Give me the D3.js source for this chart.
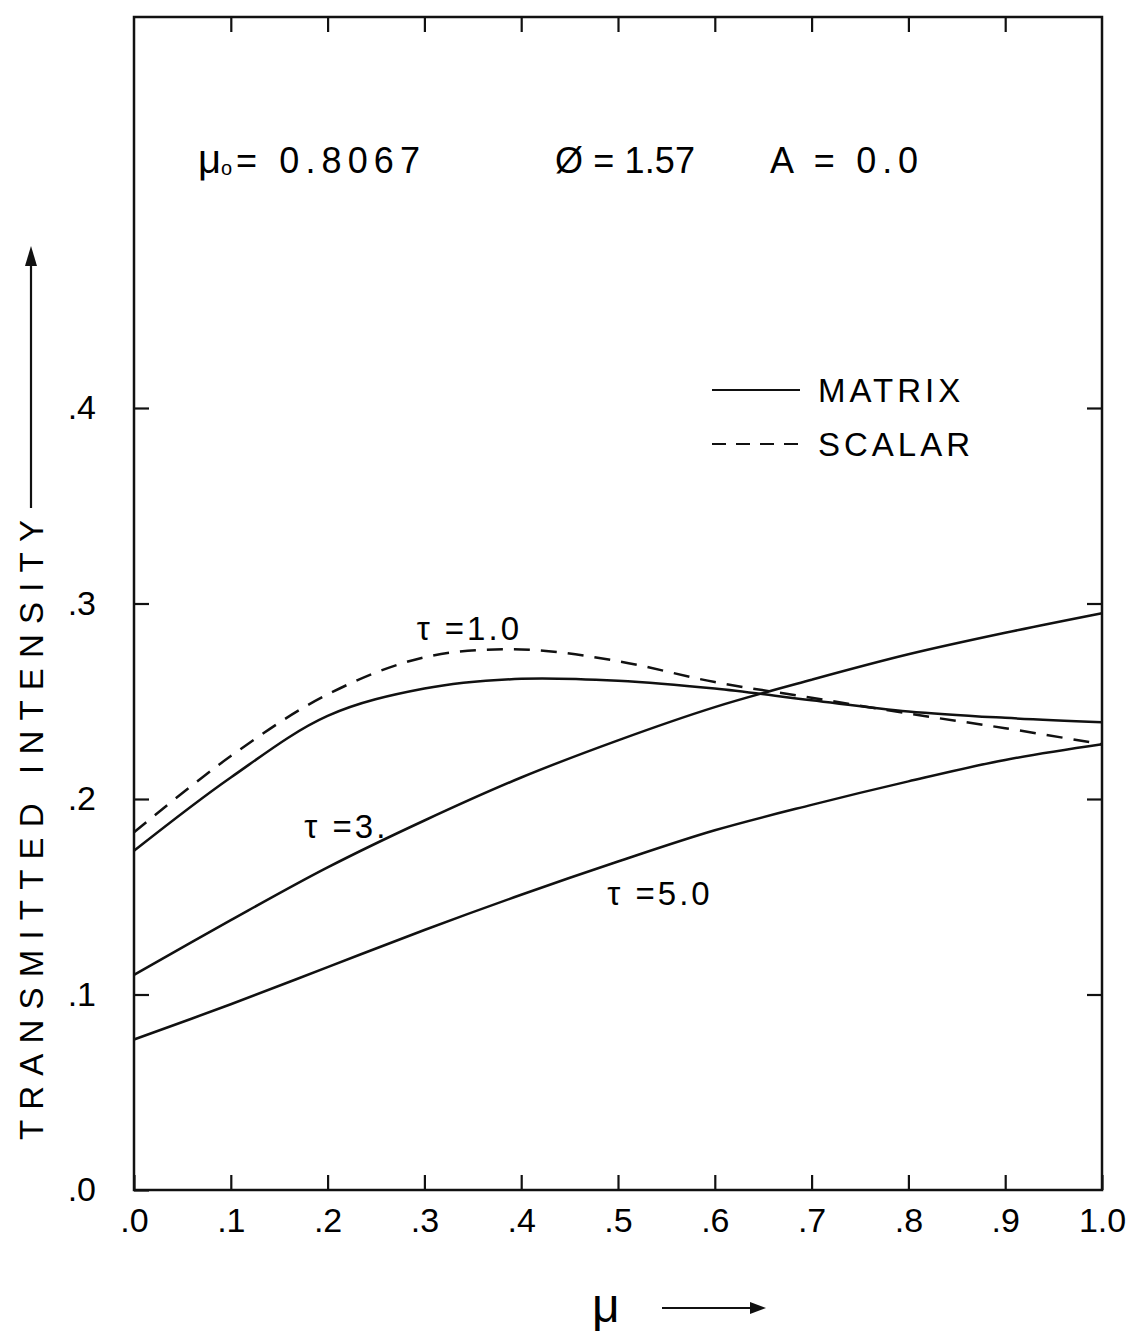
<!DOCTYPE html>
<html>
<head>
<meta charset="utf-8">
<script src="https://cdn.jsdelivr.net/npm/d3@7"></script>
<style>
  body { margin: 0; background: #fff; }
  svg { display: block; }
  text { font-family: "Liberation Sans", Arial, sans-serif; fill: #000; }
</style>
</head>
<body>
<svg id="chart" width="1133" height="1339"></svg>
<script>
// ---------- data ----------
const mu = [0.0, 0.1, 0.2, 0.3, 0.4, 0.5, 0.6, 0.7, 0.8, 0.9, 1.0];
const matrixTau1 = [0.1735, 0.211, 0.2425, 0.2565, 0.2615, 0.2605, 0.2565, 0.2505, 0.2448, 0.2415, 0.2392];
const scalarTau1 = [0.183, 0.222, 0.2535, 0.2725, 0.2765, 0.2705, 0.2598, 0.2518, 0.2437, 0.2362, 0.228];
const matrixTau3 = [0.110, 0.138, 0.165, 0.189, 0.211, 0.230, 0.247, 0.261, 0.274, 0.285, 0.295];
const matrixTau5 = [0.077, 0.095, 0.114, 0.133, 0.151, 0.168, 0.184, 0.197, 0.209, 0.220, 0.228];

const xTickValues = [0, 0.1, 0.2, 0.3, 0.4, 0.5, 0.6, 0.7, 0.8, 0.9, 1.0];
const xTickLabels = [".0", ".1", ".2", ".3", ".4", ".5", ".6", ".7", ".8", ".9", "1.0"];
const yTickValues = [0, 0.1, 0.2, 0.3, 0.4];
const yTickLabels = [".0", ".1", ".2", ".3", ".4"];

const curveLabelTexts = ["τ =1.0", "τ =3.", "τ =5.0"];
const legendItems = ["MATRIX", "SCALAR"];
const headerTexts = ["= 0.8067", "Ø = 1.57", "A = 0.0"];
const yLabel = "TRANSMITTED  INTENSITY";
const xLabel = "μ";

// ---------- layout ----------
const svg = d3.select("#chart");
const L = 134, R = 1102, T = 17, B = 1190;
const x = d3.scaleLinear().domain([0, 1]).range([L, R]);
const y = d3.scaleLinear().domain([0, 0.6]).range([B, T]);

const stroke = "#111";

// frame
svg.append("rect")
  .attr("x", L).attr("y", T).attr("width", R - L).attr("height", B - T)
  .attr("fill", "none").attr("stroke", stroke).attr("stroke-width", 2.5);

// axes
const fontSize = 34;
const bottomAxis = d3.axisBottom(x)
  .tickValues(xTickValues)
  .tickFormat((d, i) => xTickLabels[i])
  .tickSizeInner(-15).tickSizeOuter(0).tickPadding(22);
const gB = svg.append("g").attr("transform", `translate(0,${B})`).call(bottomAxis);

const topAxis = d3.axisTop(x)
  .tickValues(xTickValues.slice(1, -1))
  .tickFormat("")
  .tickSizeInner(-15).tickSizeOuter(0);
const gT = svg.append("g").attr("transform", `translate(0,${T})`).call(topAxis);

const leftAxis = d3.axisLeft(y)
  .tickValues(yTickValues)
  .tickFormat((d, i) => yTickLabels[i])
  .tickSizeInner(-15).tickSizeOuter(0).tickPadding(38);
const gL = svg.append("g").attr("transform", `translate(${L},0)`).call(leftAxis);

const rightAxis = d3.axisRight(y)
  .tickValues(yTickValues.slice(1))
  .tickFormat("")
  .tickSizeInner(-15).tickSizeOuter(0);
const gR = svg.append("g").attr("transform", `translate(${R},0)`).call(rightAxis);

[gB, gT, gL, gR].forEach(g => {
  g.select(".domain").remove();
  g.selectAll(".tick line").attr("stroke", stroke).attr("stroke-width", 2.2);
  g.selectAll("text")
    .attr("font-size", fontSize)
    .attr("font-family", "Liberation Sans, Arial, sans-serif")
    .attr("fill", "#000");
});
gB.selectAll("text").attr("dy", "0.6em");

// curves
const line = d3.line()
  .x((d, i) => x(mu[i]))
  .y(d => y(d))
  .curve(d3.curveCatmullRom.alpha(0.5));

const series = [
  { values: matrixTau1, dash: null },
  { values: scalarTau1, dash: "16,11" },
  { values: matrixTau3, dash: null },
  { values: matrixTau5, dash: null }
];
svg.append("g").selectAll("path").data(series).join("path")
  .attr("d", d => line(d.values))
  .attr("fill", "none")
  .attr("stroke", stroke)
  .attr("stroke-width", 2.5)
  .attr("stroke-dasharray", d => d.dash);

// curve labels (anchored in data coordinates)
const curveLabelPos = [[0.292, 0.2813], [0.176, 0.180], [0.489, 0.1458]];
svg.append("g").selectAll("text").data(curveLabelTexts).join("text")
  .attr("x", (d, i) => x(curveLabelPos[i][0]))
  .attr("y", (d, i) => y(curveLabelPos[i][1]))
  .attr("font-size", 33)
  .attr("letter-spacing", 3)
  .text(d => d);

// header
const hy = 173;
const hdr = svg.append("g");
hdr.append("text").attr("x", 198).attr("y", hy).attr("font-size", 40).text("μ");
hdr.append("text").attr("x", 221).attr("y", hy + 2).attr("font-size", 20).text("o");
const headerX = [236, 555, 770];
const headerLen = [184, 140, 148];
hdr.selectAll("text.h").data(headerTexts).join("text").attr("class", "h")
  .attr("x", (d, i) => headerX[i]).attr("y", hy)
  .attr("font-size", 36)
  .attr("textLength", (d, i) => headerLen[i])
  .attr("lengthAdjust", "spacing")
  .text(d => d);

// legend
const lg = svg.append("g");
legendItems.forEach((t, i) => {
  const ly = 390 + i * 54;
  lg.append("line")
    .attr("x1", 712).attr("x2", 800).attr("y1", ly).attr("y2", ly)
    .attr("stroke", stroke).attr("stroke-width", 2.2)
    .attr("stroke-dasharray", i === 1 ? "14,10" : null);
  lg.append("text").attr("x", 818).attr("y", ly + 12)
    .attr("font-size", 33).attr("letter-spacing", 4).text(t);
});

// y-axis label with arrow
const yl = svg.append("g");
yl.append("text")
  .attr("transform", "translate(43,1140) rotate(-90)")
  .attr("font-size", 33)
  .attr("textLength", 620)
  .attr("lengthAdjust", "spacing")
  .text(yLabel);
yl.append("line").attr("x1", 31).attr("x2", 31).attr("y1", 508).attr("y2", 262)
  .attr("stroke", stroke).attr("stroke-width", 2.2);
yl.append("path").attr("d", "M31,246 L25,266 L37,266 Z").attr("fill", stroke);

// x-axis label with arrow
const xl = svg.append("g");
xl.append("text").attr("x", 592).attr("y", 1322).attr("font-size", 48).text(xLabel);
xl.append("line").attr("x1", 662).attr("x2", 752).attr("y1", 1308).attr("y2", 1308)
  .attr("stroke", stroke).attr("stroke-width", 2.2);
xl.append("path").attr("d", "M766,1308 L750,1302 L750,1314 Z").attr("fill", stroke);
</script>
</body>
</html>
